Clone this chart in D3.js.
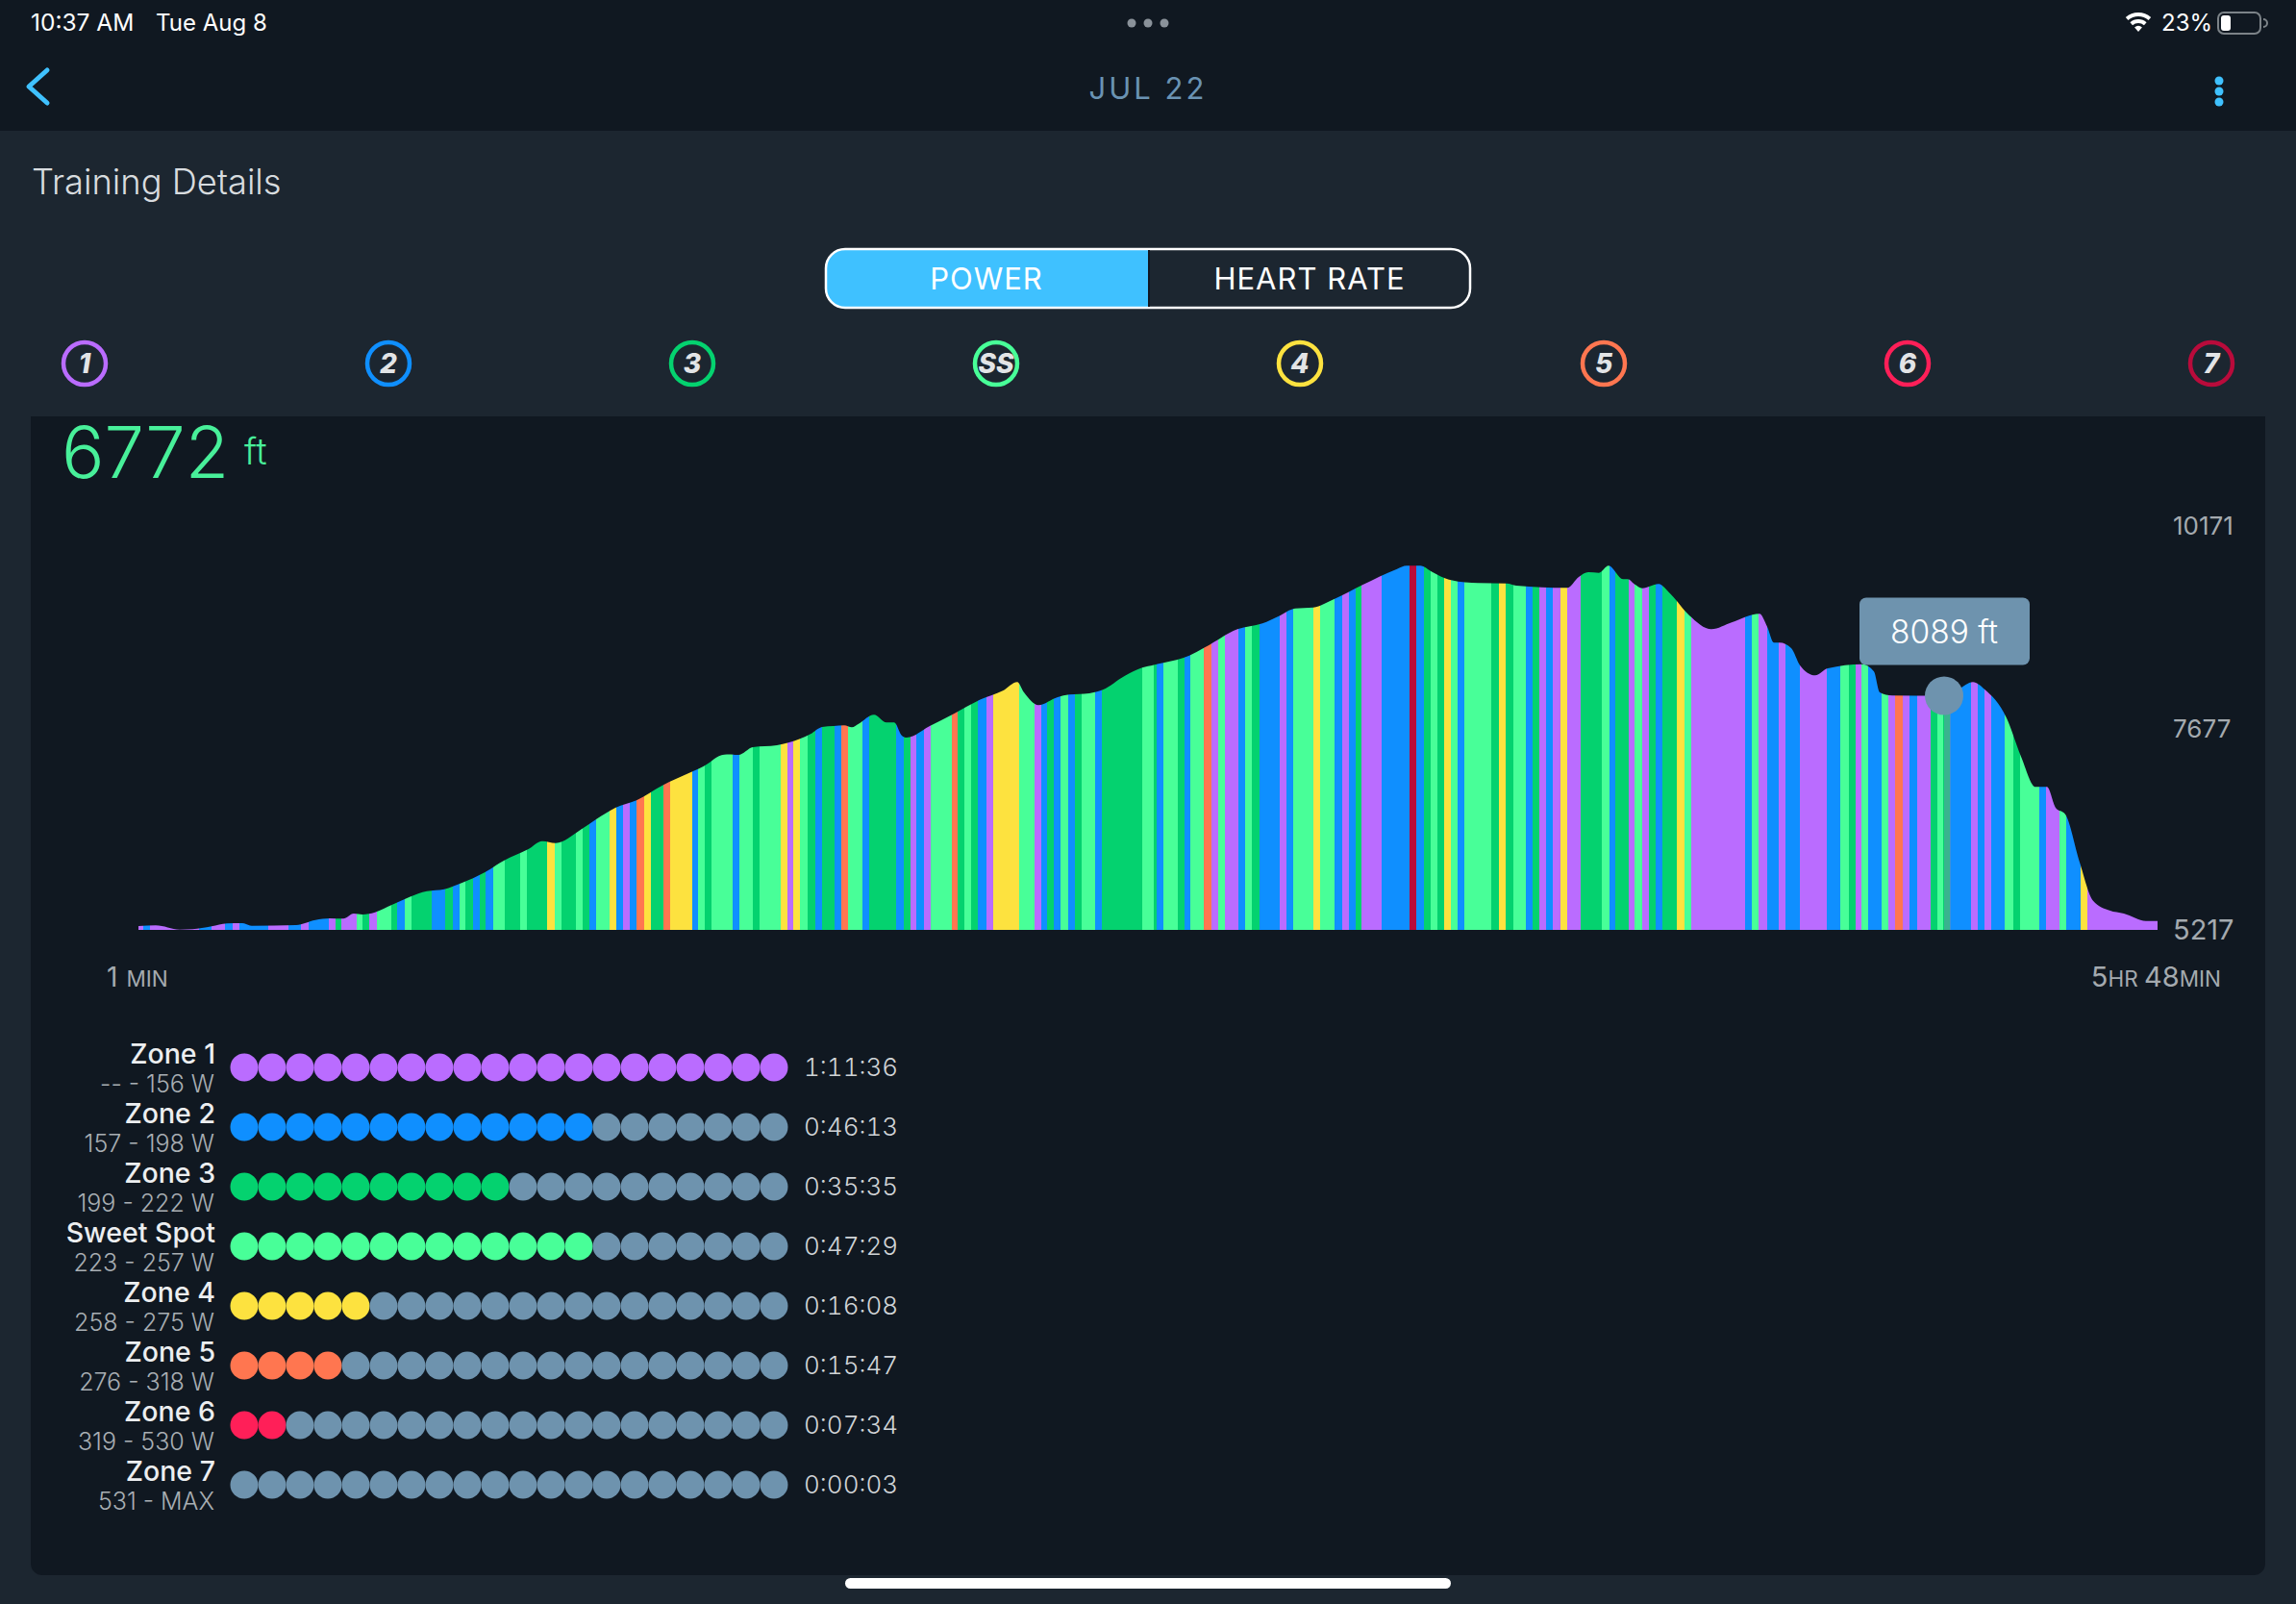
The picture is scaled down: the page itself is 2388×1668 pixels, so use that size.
<!DOCTYPE html>
<html>
<head>
<meta charset="utf-8">
<script src="https://cdn.jsdelivr.net/npm/d3@7"></script>
<style>
  html, body { margin: 0; padding: 0; background: #1c2630; }
  text { font-family: Inter, "Noto Sans", sans-serif; }
</style>
</head>
<body>
<svg id="chart" width="2388" height="1668"></svg>
<script>
// zone table
var zoneNames = ["Zone 1", "Zone 2", "Zone 3", "Sweet Spot", "Zone 4", "Zone 5", "Zone 6", "Zone 7"]
var zoneRanges = ["-- - 156 W", "157 - 198 W", "199 - 222 W", "223 - 257 W", "258 - 275 W", "276 - 318 W", "319 - 530 W", "531 - MAX"]
var zoneTimes = ["1:11:36", "0:46:13", "0:35:35", "0:47:29", "0:16:08", "0:15:47", "0:07:34", "0:00:03"]
var zoneDots = [20, 13, 10, 13, 5, 4, 2, 0]
var badgeLabels = ["1", "2", "3", "SS", "4", "5", "6", "7"]

// elevation profile, x in ride samples (0 = start, 2100 = end)
var profileSamples = [0, 18, 43, 56, 76, 92, 108, 118, 164, 184, 199, 213, 224, 233, 246, 264, 300, 318, 336, 360,
  380, 405, 420, 434, 460, 476, 496, 518, 545, 574, 592, 601, 612, 624, 639, 664, 688, 699, 711, 723,
  734, 742, 749, 765, 778, 786, 794, 799, 823, 849, 876, 899, 914, 921, 936, 956, 968, 989, 1003, 1026,
  1044, 1056, 1066, 1093, 1109, 1143, 1169, 1186, 1203, 1222, 1243, 1273, 1309, 1319, 1333, 1346, 1363, 1393, 1423, 1433,
  1486, 1498, 1508, 1519, 1529, 1544, 1549, 1556, 1564, 1581, 1594, 1613, 1636, 1657, 1686, 1694, 1701, 1707, 1719, 1728,
  1744, 1757, 1793, 1805, 1811, 1824, 1878, 1893, 1908, 1920, 1943, 1958, 1973, 1985, 1994, 2004, 2019, 2033, 2050, 2065, 2088, 2100]
var profileFt = [5264, 5272, 5221, 5225, 5261, 5296, 5300, 5268, 5276, 5338, 5359, 5355, 5418, 5406, 5433, 5527, 5692, 5716, 5791, 5921,
  6066, 6204, 6306, 6282, 6447, 6573, 6715, 6806, 6990, 7148, 7254, 7332, 7369, 7364, 7458, 7482, 7561, 7620, 7706, 7718,
  7726, 7702, 7745, 7856, 7761, 7761, 7600, 7576, 7718, 7874, 8044, 8150, 8257, 8130, 7974, 8071, 8103, 8119, 8162, 8334,
  8433, 8467, 8492, 8582, 8681, 8905, 8976, 9066, 9160, 9172, 9271, 9448, 9644, 9684, 9684, 9605, 9514, 9471, 9467, 9440,
  9412, 9546, 9605, 9597, 9684, 9519, 9519, 9457, 9408, 9460, 9330, 9074, 8905, 8988, 9094, 8936, 8740, 8740, 8673, 8464,
  8339, 8425, 8476, 8386, 8130, 8091, 8089, 8169, 8257, 8169, 7815, 7344, 6971, 6971, 6715, 6636, 6046, 5574, 5456, 5418, 5327, 5327]

// which zone the rider was in: each stripe ends at stripeEnds[i], zone index in stripeZones[i]
var stripeEnds = [5, 12, 63, 76, 90, 98, 105, 135, 156, 169, 177, 198, 205, 211, 227, 233, 240, 248, 263, 269,
  277, 284, 305, 319, 327, 334, 340, 348, 355, 361, 369, 381, 397, 404, 425, 433, 440, 455, 462, 469,
  476, 490, 497, 504, 511, 518, 526, 533, 546, 553, 576, 582, 589, 596, 618, 625, 639, 646, 668, 675,
  681, 688, 696, 704, 711, 724, 731, 738, 753, 760, 788, 796, 803, 809, 817, 824, 846, 852, 859, 866,
  873, 882, 889, 916, 932, 939, 945, 952, 959, 967, 974, 981, 995, 1002, 1044, 1056, 1059, 1066, 1081, 1088,
  1094, 1108, 1116, 1123, 1130, 1144, 1151, 1158, 1166, 1187, 1194, 1201, 1222, 1229, 1244, 1252, 1259, 1266, 1272, 1293,
  1322, 1329, 1337, 1344, 1351, 1358, 1365, 1372, 1379, 1407, 1415, 1422, 1430, 1443, 1450, 1457, 1464, 1471, 1479, 1486,
  1500, 1522, 1530, 1536, 1550, 1556, 1564, 1571, 1578, 1585, 1600, 1608, 1615, 1671, 1678, 1685, 1694, 1706, 1713, 1728,
  1756, 1770, 1779, 1786, 1792, 1799, 1813, 1820, 1827, 1835, 1842, 1850, 1864, 1871, 1877, 1884, 1906, 1913, 1920, 1927,
  1941, 1950, 1957, 1977, 1984, 1998, 2005, 2020, 2027, 2100]
var stripeZones = [0, 1, 0, 1, 0, 1, 0, 1, 0, 1, 0, 1, 0, 2, 0, 3, 2, 0, 3, 2,
  1, 3, 2, 1, 2, 1, 3, 2, 1, 2, 1, 3, 2, 3, 2, 4, 3, 2, 3, 2,
  1, 3, 4, 1, 0, 1, 5, 4, 2, 5, 4, 1, 3, 2, 3, 1, 3, 2, 3, 4,
  0, 4, 3, 2, 1, 2, 1, 5, 3, 1, 2, 1, 2, 0, 1, 0, 3, 5, 2, 3,
  2, 1, 0, 4, 3, 0, 1, 2, 1, 3, 1, 2, 3, 1, 2, 3, 2, 1, 3, 2,
  1, 3, 5, 0, 3, 0, 1, 3, 2, 1, 0, 1, 3, 4, 3, 1, 0, 1, 2, 0,
  1, 7, 1, 2, 3, 2, 4, 3, 1, 3, 2, 4, 2, 3, 1, 2, 0, 1, 0, 4,
  0, 2, 3, 1, 2, 0, 3, 0, 2, 1, 2, 4, 3, 0, 1, 3, 0, 1, 0, 1,
  0, 1, 3, 2, 0, 3, 1, 3, 0, 5, 0, 1, 0, 2, 3, 2, 1, 0, 1, 0,
  1, 3, 2, 3, 1, 0, 3, 1, 4, 0]

var yTicks = [5217, 7677, 10171]
var cursorSample = 1878
var cursorFt = 8089
var currentFt = 6772

var zoneColors = ["#ba6cff", "#0f8fff", "#04d26f", "#48ff98", "#fde23f", "#ff7650", "#ff1f58", "#b90b3b"]
var emptyDot = "#6e93ae"
var darkBg = "#101821"
var cyan = "#3fc1ff"

var svg = d3.select("#chart")

// ---- page furniture ----
svg.append("rect").attr("width", 2388).attr("height", 1668).attr("fill", "#1c2630")
svg.append("rect").attr("width", 2388).attr("height", 136).attr("fill", darkBg)
svg.append("rect").attr("x", 32).attr("y", 433).attr("width", 2324).attr("height", 1205).attr("rx", 12).attr("fill", darkBg)
svg.append("rect").attr("x", 32).attr("y", 433).attr("width", 2324).attr("height", 40).attr("fill", darkBg)
svg.append("rect").attr("x", 879).attr("y", 1641).attr("width", 630).attr("height", 11).attr("rx", 5.5).attr("fill", "#ffffff")

// status bar
svg.append("text").attr("x", 32).attr("y", 32).text("10:37 AM").style("font-size", "24.5px").attr("fill", "#ffffff")
svg.append("text").attr("x", 162).attr("y", 32).text("Tue Aug 8").style("font-size", "24px").attr("fill", "#ffffff")
svg.selectAll(".topdot").data([1177, 1194, 1211]).enter().append("circle")
  .attr("cx", d => d).attr("cy", 24).attr("r", 4.5).attr("fill", "#8a929a")
svg.append("text").attr("x", 2248).attr("y", 32).text("23%").style("font-size", "24px").attr("fill", "#ffffff")
svg.append("rect").attr("x", 2307).attr("y", 13).attr("width", 44).attr("height", 22).attr("rx", 6)
  .attr("fill", "none").attr("stroke", "#7c8388").attr("stroke-width", 2)
svg.append("rect").attr("x", 2310).attr("y", 16).attr("width", 10).attr("height", 16).attr("rx", 3).attr("fill", "#ffffff")
svg.append("path").attr("d", "M2354 20 a4 4 0 0 1 0 8").attr("fill", "none").attr("stroke", "#7c8388").attr("stroke-width", 2)
var wifiArc = d3.arc().startAngle(-0.72).endAngle(0.72)
;[[0, 6], [9, 13], [16, 20]].forEach(function (r) {
  svg.append("path").attr("transform", "translate(2224,33)")
    .attr("d", wifiArc({ innerRadius: r[0], outerRadius: r[1] }))
    .attr("fill", "#ffffff")
})

// nav bar
svg.append("path").attr("d", "M49 73 L30 90 L49 107").attr("fill", "none").attr("stroke", cyan)
  .attr("stroke-width", 5).attr("stroke-linecap", "round").attr("stroke-linejoin", "round")
svg.append("text").attr("x", 1194).attr("y", 103).attr("text-anchor", "middle").text("JUL 22")
  .style("font-size", "31px").style("letter-spacing", "3px").attr("fill", "#6a93b3")
svg.selectAll(".navdot").data([84, 95, 106]).enter().append("circle")
  .attr("cx", 2308).attr("cy", d => d).attr("r", 4.5).attr("fill", cyan)

svg.append("text").attr("x", 33).attr("y", 202).text("Training Details")
  .style("font-size", "36.3px").style("font-weight", 300).attr("fill", "#d8dcdf")

// power / heart rate switch
svg.append("path").attr("d", "M1195 259 H879 a20 20 0 0 0 -20 20 V300 a20 20 0 0 0 20 20 H1195 Z").attr("fill", cyan)
svg.append("rect").attr("x", 859).attr("y", 259).attr("width", 670).attr("height", 61).attr("rx", 20)
  .attr("fill", "none").attr("stroke", "#ffffff").attr("stroke-width", 2.5)
svg.append("line").attr("x1", 1195).attr("x2", 1195).attr("y1", 260).attr("y2", 319).attr("stroke", darkBg).attr("stroke-width", 2)
svg.append("text").attr("x", 1026).attr("y", 301).attr("text-anchor", "middle").text("POWER")
  .style("font-size", "31px").style("letter-spacing", "1px").attr("fill", "#ffffff")
svg.append("text").attr("x", 1362).attr("y", 301).attr("text-anchor", "middle").text("HEART RATE")
  .style("font-size", "31px").style("letter-spacing", "1px").attr("fill", "#ffffff")

// zone badges
var badgeX = d3.scalePoint().domain(badgeLabels).range([88, 2300])
var badges = svg.selectAll(".badge").data(badgeLabels).enter().append("g")
  .attr("transform", d => "translate(" + badgeX(d) + ",378)")
badges.append("circle").attr("r", 22).attr("fill", "none").attr("stroke-width", 4.5)
  .attr("stroke", (d, i) => zoneColors[i])
badges.append("text").attr("text-anchor", "middle").attr("y", 10).text(d => d)
  .style("font-size", "28px").style("font-weight", 800).style("font-style", "italic")
  .attr("fill", "#e2e4e6")

// current value
svg.append("text").attr("x", 64).attr("y", 497).text(currentFt)
  .style("font-size", "74px").style("font-weight", 300).attr("fill", "#48f09a")
svg.append("text").attr("x", 254).attr("y", 483).text("ft")
  .style("font-size", "38px").style("font-weight", 300).attr("fill", "#48f09a")

// ---- elevation chart ----
var x = d3.scaleLinear().domain([0, 2100]).range([144, 2244])
var y = d3.scaleLinear().domain([5217, 10171]).range([967, 547])

var area = d3.area()
  .x(d => x(d[0]))
  .y0(y(5217))
  .y1(d => y(d[1]))
  .curve(d3.curveMonotoneX)

svg.append("clipPath").attr("id", "profile-clip").append("path")
  .attr("d", area(d3.zip(profileSamples, profileFt)))

svg.append("g").attr("clip-path", "url(#profile-clip)")
  .selectAll("rect").data(stripeEnds).enter().append("rect")
  .attr("x", (d, i) => x(i === 0 ? 0 : stripeEnds[i - 1]))
  .attr("width", (d, i) => x(d) - x(i === 0 ? 0 : stripeEnds[i - 1]))
  .attr("y", y(10171))
  .attr("height", y(5217) - y(10171))
  .attr("fill", (d, i) => zoneColors[stripeZones[i]])
  .attr("shape-rendering", "crispEdges")

var yAxis = d3.axisRight(y).tickValues(yTicks).tickSize(0).tickFormat(d3.format("d"))
var yG = svg.append("g").attr("transform", "translate(2260,0)").call(yAxis)
yG.select(".domain").remove()
yG.selectAll("text").attr("x", 0).attr("dy", "0.32em").attr("fill", "#a4aaaf")
  .style("font-family", "Inter").style("font-size", d => d === 5217 ? "29px" : "26px")

// x end labels
var startLabel = svg.append("text").attr("x", 111).attr("y", 1026).attr("fill", "#a4aaaf")
startLabel.append("tspan").text("1").style("font-size", "28px")
startLabel.append("tspan").attr("dx", 9).text("MIN").style("font-size", "22.5px")
var endLabel = svg.append("text").attr("x", 2310).attr("y", 1026).attr("text-anchor", "end").attr("fill", "#a4aaaf")
endLabel.append("tspan").text("5").style("font-size", "29px")
endLabel.append("tspan").text("HR ").style("font-size", "22.5px")
endLabel.append("tspan").text("48").style("font-size", "29px")
endLabel.append("tspan").text("MIN").style("font-size", "22.5px")

// cursor + tooltip
svg.append("rect").attr("x", x(cursorSample)).attr("width", 7).attr("y", y(cursorFt))
  .attr("height", y(5217) - y(cursorFt)).attr("fill", emptyDot).attr("opacity", 0.5)
svg.append("circle").attr("cx", x(cursorSample)).attr("cy", y(cursorFt)).attr("r", 20).attr("fill", emptyDot)
svg.append("rect").attr("x", x(cursorSample) - 88).attr("y", y(cursorFt) - 102).attr("width", 177).attr("height", 70)
  .attr("rx", 7).attr("fill", emptyDot)
svg.append("text").attr("x", x(cursorSample)).attr("y", y(cursorFt) - 55).attr("text-anchor", "middle")
  .text(cursorFt + " ft").style("font-size", "33.5px").style("font-weight", 300).attr("fill", "#ffffff")

// ---- zone rows ----
var rowY = d3.scalePoint().domain(zoneNames).range([1110, 1544])
var dotX = d3.scalePoint().domain(d3.range(20)).range([254, 805])

var rows = svg.selectAll(".row").data(zoneNames).enter().append("g")
  .attr("transform", d => "translate(0," + rowY(d) + ")")

rows.append("text").attr("x", 224).attr("y", -4).attr("text-anchor", "end").text(d => d)
  .style("font-size", "28.5px").style("font-weight", 500).attr("fill", "#eceef0")
rows.append("text").attr("x", 223).attr("y", 26).attr("text-anchor", "end").text((d, i) => zoneRanges[i])
  .style("font-size", "25px").style("font-weight", 300).attr("fill", "#a8aeb3")
rows.append("text").attr("x", 836).attr("y", 9).text((d, i) => zoneTimes[i])
  .style("font-size", "26px").style("font-weight", 300).style("font-variant-numeric", "tabular-nums").attr("fill", "#d0d4d7")

rows.each(function (name, i) {
  d3.select(this).selectAll("circle").data(d3.range(20)).enter().append("circle")
    .attr("cx", d => dotX(d))
    .attr("r", 14.5)
    .attr("fill", d => d < zoneDots[i] ? zoneColors[i] : emptyDot)
})
</script>
</body>
</html>
